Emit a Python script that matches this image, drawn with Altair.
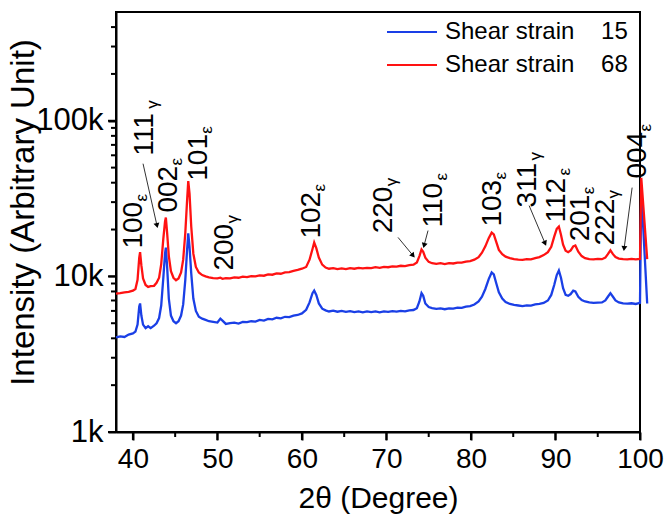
import altair as alt
import pandas as pd

# ---------------- data ----------------
two_theta = [38.0, 38.5, 39.0, 39.5, 40.0, 40.3, 40.55, 40.75, 40.85, 41.0, 41.2, 41.5, 41.8, 42.1, 42.5,
             42.8, 43.1, 43.35, 43.6, 43.8, 43.9, 44.05, 44.25, 44.5, 44.8, 45.1, 45.4, 45.7, 45.95,
             46.2, 46.4, 46.55, 46.7, 46.9, 47.15, 47.45, 47.8, 48.2, 48.6, 49.0, 49.5, 50.0, 50.35,
             50.6, 51.0, 51.5, 52.0, 52.5, 53.0, 53.5, 54.0, 54.5, 55.0, 55.5, 56.0, 56.5, 57.0, 57.5,
             58.0, 58.5, 59.0, 59.5, 60.0, 60.5, 60.9, 61.25, 61.45, 61.7, 62.0, 62.4, 62.8, 63.2,
             63.7, 64.2, 64.7, 65.2, 65.7, 66.2, 66.7, 67.2, 67.7, 68.2, 68.7, 69.2, 69.7, 70.2, 70.7,
             71.2, 71.7, 72.2, 72.7, 73.2, 73.6, 73.9, 74.15, 74.35, 74.6, 75.0, 75.4, 75.9, 76.4,
             76.9, 77.4, 77.9, 78.4, 78.9, 79.4, 79.9, 80.4, 80.9, 81.3, 81.7, 82.1, 82.45, 82.7,
             83.0, 83.3, 83.7, 84.1, 84.6, 85.1, 85.6, 86.1, 86.6, 87.1, 87.6, 88.1, 88.6, 89.1,
             89.5, 89.85, 90.15, 90.4, 90.65, 90.9, 91.2, 91.5, 91.8, 92.1, 92.35, 92.7, 93.1, 93.5,
             94.0, 94.5, 95.0, 95.5, 95.9, 96.2, 96.5, 96.8, 97.1, 97.5, 98.0, 98.5, 99.0, 99.5,
             100.0, 100.15, 100.85]

strain15 = [4050, 4120, 4080, 4230, 4300, 4420, 4900, 6400, 6700, 5600, 4900, 4650, 4780, 4650, 4820,
            5000, 5400, 6500, 9800, 14000, 15300, 11500, 7200, 5600, 5150, 5000, 5150, 5600, 6600,
            9500, 14500, 18900, 15500, 10500, 7200, 6000, 5500, 5350, 5250, 5150, 5100, 5050, 5350,
            5200, 4950, 5000, 5050, 4980, 5100, 5080, 5150, 5120, 5250, 5200, 5330, 5300, 5420, 5380,
            5500, 5480, 5600, 5650, 5780, 6100, 6800, 7800, 8100, 7600, 6700, 6200, 6050, 5950,
            6020, 5930, 6000, 5920, 5980, 5900, 5960, 5880, 5950, 5900, 5960, 5880, 5950, 5920, 5980,
            5930, 6000, 5960, 6050, 6080, 6250, 6900, 7800, 7500, 6700, 6350, 6250, 6180, 6220,
            6150, 6230, 6200, 6300, 6280, 6400, 6450, 6600, 6900, 7400, 8300, 9600, 10600, 10300,
            9000, 7900, 7200, 6850, 6650, 6550, 6500, 6450, 6520, 6480, 6600, 6650, 6750, 7000,
            7600, 8800, 10200, 10900, 9800, 8400, 7600, 7500, 7700, 8100, 8000, 7400, 7050, 6900,
            6800, 6750, 6780, 6800, 7000, 7400, 7800, 7400, 7000, 6800, 6700, 6680, 6720, 6650,
            6750, 36000, 6700]

strain68 = [7750, 7800, 7900, 7950, 8100, 8300, 9500, 13200, 14300, 11800, 9700, 8800, 8550, 8650, 8700,
            9100, 9800, 12000, 17500, 22500, 23900, 19000, 13500, 10800, 9800, 9450, 9700, 10600, 12800,
            19000, 30000, 41000, 34000, 21000, 14000, 11500, 10600, 10200, 10000, 9850, 9750, 9700, 9800,
            9650, 9750, 9700, 9850, 9800, 9950, 9900, 10050, 10000, 10150, 10100, 10300, 10250, 10450, 10400,
            10600, 10650, 10850, 11000, 11200, 11500, 12800, 15000, 16500, 15200, 13200, 11900, 11400, 11200,
            11300, 11150, 11250, 11150, 11300, 11200, 11350, 11250, 11350, 11300, 11450, 11350, 11500, 11450, 11600,
            11550, 11700, 11650, 11800, 11900, 12300, 13500, 14900, 14400, 13200, 12400, 12150, 12050, 12150,
            12000, 12150, 12100, 12250, 12250, 12450, 12550, 12800, 13300, 14200, 15600, 17600, 19100, 18600,
            16600, 14800, 13900, 13400, 13100, 12900, 12800, 12750, 12900, 12850, 13100, 13300, 13700, 14300,
            15500, 18000, 20200, 20900, 18500, 16000, 14600, 14300, 14700, 15600, 15800, 14400, 13500, 13100,
            12900, 12850, 12950, 12900, 13200, 13900, 14700, 13900, 13300, 13000, 12900, 12850, 12950, 12850,
            12950, 43000, 12900]

series_names = ["Shear strain\u00a0\u00a0\u00a0\u00a015", "Shear strain\u00a0\u00a0\u00a0\u00a068"]
series_colors = ["#1a3fe6", "#ff1212"]

# peak annotations (position of label start in data space)
ann_x = [41.08, 42.38, 45.22, 48.77, 51.85, 62.14, 70.66, 76.58, 83.56, 87.70, 91.14, 93.98, 96.93, 100.72]
ann_y = [15100, 59700, 25700, 41200, 10900, 17500, 18900, 20600, 20900, 27700, 22200, 16800, 15800, 42500]
ann_main = ["100", "111", "002", "101", "200", "102", "220", "110", "103", "311", "112", "201", "222", "004"]
ann_sub = ["ε", "γ", "ε", "ε", "γ", "ε", "γ", "ε", "ε", "γ", "ε", "ε", "γ", "ε"]

# arrows (tail -> head) in data space
arr_x1 = [41.20, 71.37, 74.92, 86.88, 99.07]
arr_y1 = [53000, 17800, 19700, 28500, 37200]
arr_x2 = [42.85, 73.15, 74.45, 88.77, 98.12]
arr_y2 = [21200, 13600, 15800, 16300, 15100]
arr_angle = [347, 320, 15, 337, 7]

x_major = [40, 50, 60, 70, 80, 90, 100]
x_minor = [45, 55, 65, 75, 85, 95]
y_major = [1000, 10000, 100000]
y_major_labels = ["1k", "10k", "100k"]
y_minor = [2000, 3000, 4000, 5000, 6000, 7000, 8000, 9000,
           20000, 30000, 40000, 50000, 60000, 70000, 80000, 90000,
           200000, 300000, 400000]

# ---------------- build ----------------
FONT = "Liberation Sans"
W, H = 524, 420

rows = []
for name, vals in zip(series_names, [strain15, strain68]):
    for xv, yv in zip(two_theta, vals):
        rows.append({"x": xv, "y": yv, "series": name})
df = pd.DataFrame(rows)

ann = pd.DataFrame({"x": ann_x, "y": ann_y, "main": ann_main, "sub": ann_sub})
arr = pd.DataFrame({"x": arr_x1, "y": arr_y1, "x2": arr_x2, "y2": arr_y2, "ang": arr_angle})

xscale = alt.Scale(domain=[38, 100], nice=False, zero=False)
yscale = alt.Scale(type="log", domain=[1000, 500000], nice=False)

label_map = " : ".join(f"datum.value == {v} ? '{t}'" for v, t in zip(y_major, y_major_labels)) + " : ''"

x_axis = alt.Axis(
    title="2θ (Degree)", values=x_major, format="d", orient="bottom",
    tickSize=8, ticks=True, tickColor="black", tickWidth=2,
    labelFontSize=28, labelPadding=5, labelFlush=False, labelOverlap=False,
    titleFontSize=30, titleFontWeight="normal", titleX=262, titleY=51,
    titleBaseline="top", titleAlign="center",
)
y_axis = alt.Axis(
    title="Intensity (Arbitrary Unit)", values=y_major, labelExpr=label_map, orient="left",
    tickSize=8, ticks=True, tickColor="black", tickWidth=2,
    labelFontSize=31, labelPadding=5, labelOverlap=False, labelBaseline="middle",
    titleFontSize=33, titleFontWeight="normal", titleX=-76, titleY=200,
    titleAngle=270, titleAlign="center", titleBaseline="bottom",
)

lines = alt.Chart(df).mark_line(strokeWidth=2.3, clip=False).encode(
    x=alt.X("x:Q", scale=xscale, axis=x_axis),
    y=alt.Y("y:Q", scale=yscale, axis=y_axis),
    color=alt.Color("series:N", scale=alt.Scale(domain=series_names, range=series_colors),
                    legend=alt.Legend(title=None, orient="none", legendX=284, legendY=8,
                                      direction="vertical", symbolType="M-5,0H5", symbolSize=100,
                                      symbolStrokeWidth=2, labelFontSize=24, labelFont=FONT,
                                      labelOffset=21, rowPadding=9, padding=0, labelLimit=400)),
    order=alt.Order("x:Q"),
)

# explicit tick marks placed through the scales
def yticks(vals, length):
    return alt.Chart(pd.DataFrame({"v": vals})).mark_rule(color="black", strokeWidth=2).encode(
        y=alt.Y("v:Q", scale=yscale, axis=None),
        x=alt.value(-length), x2=alt.value(0),
    )

def xticks(vals, length):
    return alt.Chart(pd.DataFrame({"v": vals})).mark_rule(color="black", strokeWidth=2).encode(
        x=alt.X("v:Q", scale=xscale, axis=None),
        y=alt.value(H), y2=alt.value(H + length),
    )

arrows = alt.Chart(arr).mark_rule(color="#333333", strokeWidth=1).encode(
    x=alt.X("x:Q", scale=xscale, axis=None),
    y=alt.Y("y:Q", scale=yscale, axis=None),
    x2="x2:Q", y2="y2:Q",
)
heads = alt.Chart(arr).mark_point(shape="triangle-down", filled=True, color="black",
                                  size=35, opacity=1).encode(
    x=alt.X("x2:Q", scale=xscale, axis=None), y=alt.Y("y2:Q", scale=yscale, axis=None),
    angle=alt.Angle("ang:Q", scale=None),
)

main_txt = alt.Chart(ann).mark_text(angle=270, align="left", baseline="alphabetic",
                                    fontSize=28, font=FONT, color="black").encode(
    x=alt.X("x:Q", scale=xscale, axis=None), y=alt.Y("y:Q", scale=yscale, axis=None),
    text="main:N",
)
sub_txt = alt.Chart(ann).mark_text(angle=270, align="left", baseline="alphabetic",
                                   fontSize=17, font=FONT, color="black", dx=47, dy=5).encode(
    x=alt.X("x:Q", scale=xscale, axis=None), y=alt.Y("y:Q", scale=yscale, axis=None),
    text="sub:N",
)

chart = alt.layer(
    lines, yticks(y_major, 8), yticks(y_minor, 5), xticks(x_major, 8), xticks(x_minor, 5),
    arrows, heads, main_txt, sub_txt,
).resolve_axis(
    x="independent", y="independent"
).properties(
    width=W, height=H,
    autosize=alt.AutoSizeParams(type="none"),
    padding={"left": 116, "top": 12, "right": 25, "bottom": 86},
).configure(font=FONT).configure_view(
    stroke="black", strokeWidth=2
).configure_axis(
    grid=False, domainColor="black", domainWidth=2,
    labelColor="black", titleColor="black", labelFont=FONT, titleFont=FONT,
)

chart.save("out.html", embed_options={"renderer": "svg", "actions": False})
